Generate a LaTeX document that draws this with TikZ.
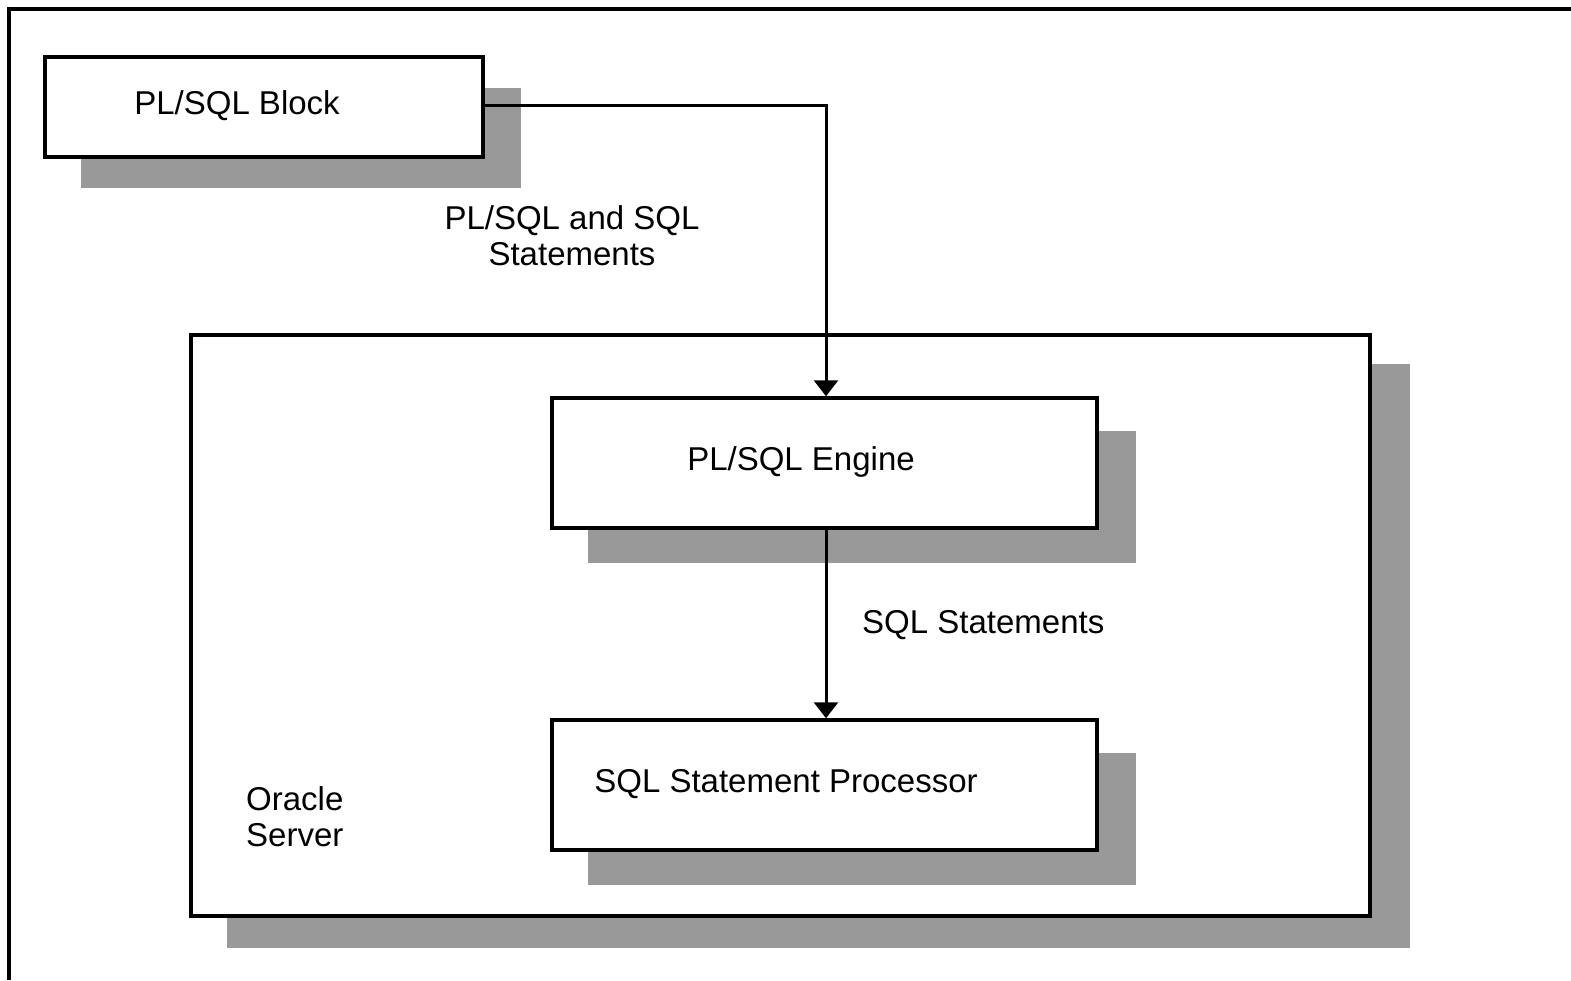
\documentclass[tikz,border=0pt]{standalone}
\usepackage{fontspec}
\setmainfont{Liberation Sans}
\usetikzlibrary{arrows.meta}
\begin{document}
\begin{tikzpicture}[x=1pt,y=-1pt,
  box/.style={draw=black,line width=3.5pt,fill=white,inner sep=0pt},
  shadowbox/.style={fill=shadowgray,draw=none,inner sep=0pt},
  lbl/.style={font=\fontsize{33}{36}\selectfont,inner sep=0pt,align=center},
  conn/.style={line width=3pt,-{Triangle[width=24pt,length=16pt]}}]
\definecolor{shadowgray}{HTML}{999999}
\useasboundingbox (0,0) rectangle (1571,980);
\fill[white] (0,0) rectangle (1571,980);
% outer frame
\draw[line width=4pt] (9,980) -- (9,9) -- (1571,9);
% server and its shadow
\node[shadowbox,minimum width=1183pt,minimum height=584pt] (srvsh) at (818.5,656) {};
\node[box,minimum width=1179pt,minimum height=581pt] (server) at (780.5,625.5) {};
% shadows
\node[shadowbox,minimum width=440pt,minimum height=100pt] (blksh) at (301,138) {};
\node[shadowbox,minimum width=548pt,minimum height=132pt] (engsh) at (862,497) {};
\node[shadowbox,minimum width=548pt,minimum height=132pt] (procsh) at (862,819) {};
% boxes
\node[box,minimum width=438pt,minimum height=100pt] (block) at (264,107) {};
\node[box,minimum width=545pt,minimum height=130pt] (engine) at (824.5,463) {};
\node[box,minimum width=545pt,minimum height=130pt] (proc) at (824.5,785) {};
% texts
\node[lbl] (blocktxt) at (237,106) {PL/SQL Block};
\node[lbl] (enginetxt) at (801,462) {PL/SQL Engine};
\node[lbl] (proctxt) at (786,784) {SQL Statement Processor};
\node[lbl,align=left,anchor=west] (servertxt) at (246,817) {Oracle\\Server};
\node[lbl] (l1) at (572,236) {PL/SQL and SQL\\Statements};
\node[lbl,anchor=west] (l2) at (862,625) {SQL Statements};
% connectors
\coordinate (bend) at (826,105);
\draw[conn] (block.east |- bend) -- (bend) -- (bend |- engine.north);
\draw[conn] (bend |- engine.south) -- (bend |- proc.north);
\end{tikzpicture}
\end{document}
